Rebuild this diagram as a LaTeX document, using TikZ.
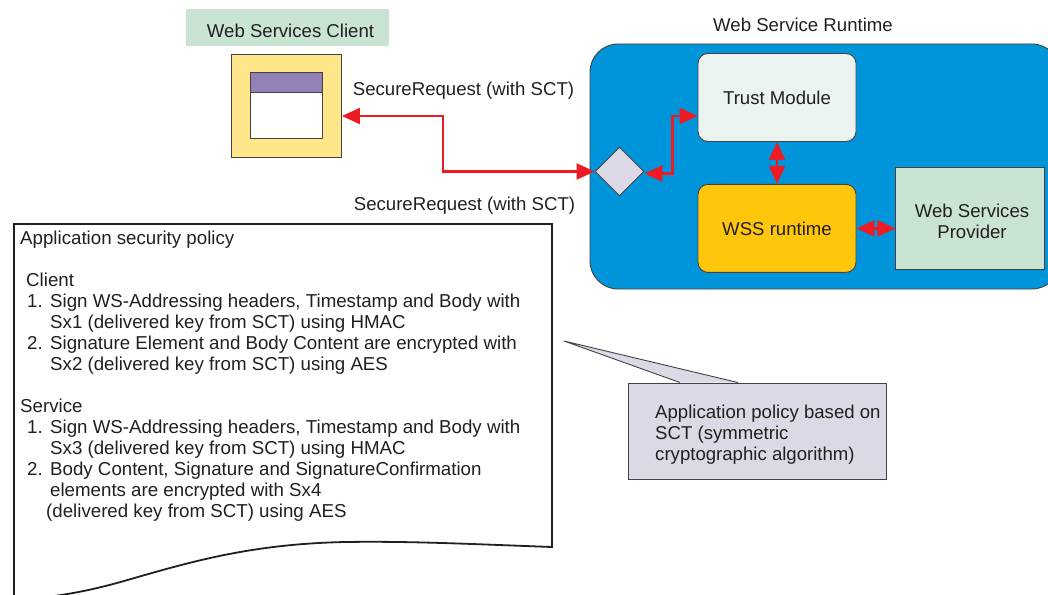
\documentclass[tikz,border=0pt]{standalone}
\usepackage{fontspec}
\setmainfont{Liberation Sans}
\usepackage{xcolor}
\usetikzlibrary{arrows.meta, shapes.geometric, positioning, calc}

\definecolor{inkgray}{HTML}{231F20}
\definecolor{paleblue}{HTML}{0095DA}
\definecolor{palegreen}{HTML}{C9E4D3}
\definecolor{paleyellow}{HTML}{FFE68A}
\definecolor{palepurple}{HTML}{9380B4}
\definecolor{palelilac}{HTML}{DCD9E6}
\definecolor{palemint}{HTML}{EAF3EF}
\definecolor{amber}{HTML}{FFC70B}
\definecolor{arrowred}{HTML}{ED1C24}

\newcommand{\polnum}[1]{\hspace*{7pt}\makebox[23pt][l]{#1}}

\begin{document}
\begin{tikzpicture}[
            x=1pt, y=-1pt,
            node distance=42pt and 39pt,
            font=\fontsize{18.6}{21}\selectfont,
            text=inkgray,
            label/.style={inner sep=0pt, anchor=center},
            module/.style={rectangle, rounded corners=10pt, draw=inkgray!85, line width=0.9pt, minimum width=158pt, minimum height=88pt, align=center, inner sep=0pt},
            flat/.style={rectangle, draw=inkgray!85, line width=0.9pt, inner sep=0pt, align=center},
            link/.style={arrowred, line width=2.2pt, {Triangle[length=18pt,width=16pt]}-{Triangle[length=18pt,width=16pt]}}
        ]
            \clip (0,0) rectangle (1048,594);

            % Client side
            \node[rectangle, fill=palegreen, minimum width=203pt, minimum height=37pt, inner sep=0pt] (clienttitle) at (287.5,27.5) {};
            \node[label] (clientlabel) at (290.5,30.5) {Web Services Client};
            \node[flat, fill=paleyellow, minimum width=110pt, minimum height=103pt] (client) at (286.5,105.5) {};
            \node[flat, fill=white, minimum width=72pt, minimum height=65.5pt] (window) at (286.5,105.3) {};
            \node[flat, fill=palepurple, minimum width=72pt, minimum height=19.5pt, below=0pt of window.north] (titlebar) {};

            % Runtime side
            \node[label] (runtimelabel) at (803,24.5) {Web Service Runtime};
            \node[rectangle, rounded corners=28pt, draw=inkgray!85, line width=0.9pt, fill=paleblue, minimum width=470pt, minimum height=245pt] (runtime) at (825,166.5) {};
            \node[module, fill=palemint] (trust) at (777,97.5) {Trust Module};
            \node[module, fill=amber, below=of trust] (wss) {WSS runtime};
            \node[flat, fill=palegreen, minimum width=149pt, minimum height=102pt, right=of wss, yshift=10pt] (provider) {};
            \node[label, align=center] (providerlabel) at (972,221.5) {Web Services\\Provider};
            \node[diamond, draw=inkgray!85, line width=0.9pt, fill=palelilac, minimum width=49pt, minimum height=49pt, inner sep=0pt] (gate) at (619.5,171.5) {};

            % Policy document
            \draw[inkgray, line width=1.8pt, fill=white] (14,224) -- (552,224) -- (552,547)
                .. controls (470,544) and (410,541) .. (345,542)
                .. controls (250,544) and (190,562) .. (124,581)
                .. controls (96,589) and (72,594) .. (40,598) -- (14,600) -- cycle;
            \node[inner sep=0pt, anchor=north west, align=left, font=\fontsize{18.7}{21}\selectfont] (policy) at (20,230.5) {%
                Application security policy\\[21pt]
                \hspace*{6pt}Client\\
                \polnum{1.}Sign WS-Addressing headers, Timestamp and Body with\\
                \hspace*{30pt}Sx1 (delivered key from SCT) using HMAC\\
                \polnum{2.}Signature Element and Body Content are encrypted with\\
                \hspace*{30pt}Sx2 (delivered key from SCT) using AES\\[21pt]
                Service\\
                \polnum{1.}Sign WS-Addressing headers, Timestamp and Body with\\
                \hspace*{30pt}Sx3 (delivered key from SCT) using HMAC\\
                \polnum{2.}Body Content, Signature and SignatureConfirmation\\
                \hspace*{30pt}elements are encrypted with Sx4\\
                \hspace*{26pt}(delivered key from SCT) using AES};

            % Callout
            \node[flat, fill=palelilac, minimum width=258pt, minimum height=96pt] (callout) at (757.5,431) {};
            \node[inner sep=0pt, anchor=north west, align=left] (callouttext) at (655,405) {Application policy based on\\SCT (symmetric\\cryptographic algorithm)};
            \coordinate (tip) at (564,341);
            \fill[palelilac] ([xshift=52pt]callout.north west) -- (tip) -- ([xshift=110pt]callout.north west) -- cycle;
            \draw[inkgray!85, line width=0.9pt] ([xshift=52pt]callout.north west) -- (tip) -- ([xshift=110pt]callout.north west);

            % Arrows
            \node[label] (requestup) at (463.5,91) {SecureRequest (with SCT)};
            \node[label] (requestdown) at (464.5,206) {SecureRequest (with SCT)};
            \draw[link] ([yshift=-10.5pt]client.east) -- ++(101,0) |- (gate.west);
            \draw[link] ([yshift=-2pt]gate.east) -- ++(28,0) |- ([yshift=-18.5pt]trust.west);
            \draw[link] (trust) -- (wss);
            \draw[link] (wss) -- (wss -| provider.west);
        \end{tikzpicture}
\end{document}
